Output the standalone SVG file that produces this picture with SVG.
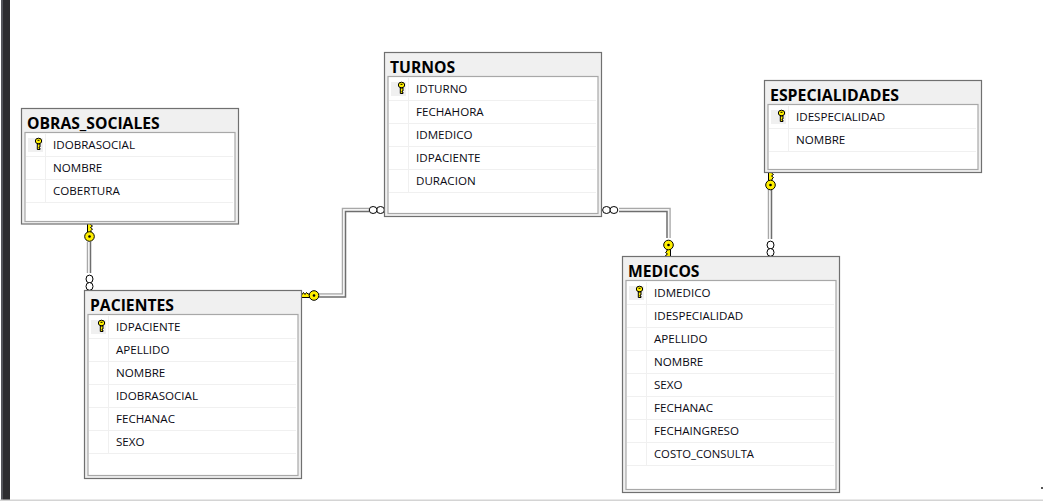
<svg xmlns="http://www.w3.org/2000/svg" xmlns:xlink="http://www.w3.org/1999/xlink" width="1043" height="501" viewBox="0 0 1043 501">
<style>
.outer{fill:#f0f0f0;stroke:#707070;stroke-width:1.2}
.inner{fill:#fff;stroke:#a8a8a8;stroke-width:1.2}
.sep{stroke:#f0f0f0;stroke-width:1;fill:none}
.keybg{fill:#f0f0f0}
.title{font:bold 15.7px "Open Sans","Noto Sans",sans-serif;fill:#000}
.col{font:11.6px "Open Sans","Noto Sans",sans-serif;fill:#0a0a14}
.l1{fill:none;stroke:#a8a8a8;stroke-width:1.5}
.l2{fill:none;stroke:#6e6e6e;stroke-width:1.5}
.l3{fill:none;stroke:#f6f6f6;stroke-width:1.5}
.ring{fill:#fff;stroke:#000;stroke-width:1}
.k{fill:#ffef00;stroke:#000;stroke-width:1}
</style>
<defs>
<g id="smallkey"><ellipse cx="0" cy="-3" rx="3.2" ry="2.8" fill="#ffef00" stroke="#000" stroke-width="1"/><path d="M-1.2 0V5.500H1.500V4.200H0.600V3H1.500V0Z" fill="#ffef00" stroke="#000" stroke-width="1"/><rect x="-1" y="-4.200" width="2" height="1" fill="#000"/></g>
<g id="relkey"><path d="M-2 -3V-15.500L2.500 -13.500L1 -12L3 -10.500L1 -9L3 -7.500L1.500 -6V-3Z" class="k"/><circle cx="0" cy="0" r="4.800" class="k"/><circle cx="0" cy="0" r="1.300" fill="#000"/></g>
<g id="rings"><ellipse cx="0" cy="0" rx="3.500" ry="3.900" class="ring"/><ellipse cx="0" cy="7.400" rx="3.500" ry="3.900" class="ring"/></g>
</defs>
<rect width="1043" height="501" fill="#fff"/>
<rect x="1" y="0" width="2" height="501" fill="#55565c"/>
<rect x="3" y="0" width="7" height="501" fill="#2d2d30"/>
<rect x="0" y="499.500" width="1043" height="1.500" fill="#d4d4d4"/>
<rect x="1041" y="487" width="2" height="2" fill="#555"/>
<g id="connectors">
<g id="rel-obras-pacientes">
<path class="l1" d="M87.500 242V273"/><path class="l3" d="M89 242V273"/><path class="l2" d="M90.500 242V273"/>
<use xlink:href="#relkey" x="89.500" y="236.500"/>
<use xlink:href="#rings" x="89.500" y="279"/>
</g>
<g id="rel-pacientes-turnos">
<path class="l1" d="M318 294H342.500V208.500H369"/>
<path class="l3" d="M318 295.500H344V210H369"/>
<path class="l2" d="M318 297H345.500V211.500H369"/>
<use xlink:href="#relkey" transform="translate(314 295.500) rotate(-90)"/>
<use xlink:href="#rings" transform="translate(380.500 210) rotate(90)"/>
</g>
<g id="rel-turnos-medicos">
<path class="l1" d="M619 208.500H670V238"/>
<path class="l3" d="M619 210H668.500V238"/>
<path class="l2" d="M619 211.500H667V238"/>
<use xlink:href="#rings" transform="translate(606.500 210) rotate(-90)"/>
<use xlink:href="#relkey" transform="translate(668.500 245) rotate(180)"/>
</g>
<g id="rel-especialidades-medicos">
<path class="l1" d="M768.500 189V239"/><path class="l3" d="M770 189V239"/><path class="l2" d="M771.500 189V239"/>
<use xlink:href="#relkey" x="770.500" y="185"/>
<use xlink:href="#rings" x="770.500" y="245"/>
</g>
</g>
<g id="OBRAS_SOCIALES">
<rect class="outer" x="21.500" y="108.500" width="217" height="115.500"/>
<rect class="inner" x="25" y="132.500" width="210" height="89"/>
<path class="sep" d="M26 156.500H233M26 179.500H233M26 202.500H233M45.500 134V202"/>
<rect class="keybg" x="28" y="138" width="15" height="14"/>
<use xlink:href="#smallkey" x="38.500" y="144"/>
<text class="title" x="27" y="129">OBRAS_SOCIALES</text>
<text class="col" x="53" y="149">IDOBRASOCIAL</text>
<text class="col" x="53" y="172">NOMBRE</text>
<text class="col" x="53" y="195">COBERTURA</text>
</g>
<g id="TURNOS">
<rect class="outer" x="384.500" y="52.500" width="217" height="164"/>
<rect class="inner" x="388" y="76.500" width="210" height="137"/>
<path class="sep" d="M389 100.500H596M389 123.500H596M389 146.500H596M389 169.500H596M389 192.500H596M408.500 78V192"/>
<rect class="keybg" x="391" y="82" width="15" height="14"/>
<use xlink:href="#smallkey" x="401.500" y="88"/>
<text class="title" x="390" y="73">TURNOS</text>
<text class="col" x="416" y="93">IDTURNO</text>
<text class="col" x="416" y="116">FECHAHORA</text>
<text class="col" x="416" y="139">IDMEDICO</text>
<text class="col" x="416" y="162">IDPACIENTE</text>
<text class="col" x="416" y="185">DURACION</text>
</g>
<g id="ESPECIALIDADES">
<rect class="outer" x="764.500" y="80.500" width="217" height="92"/>
<rect class="inner" x="768" y="104.500" width="210" height="65"/>
<path class="sep" d="M769 128.500H976M769 151.500H976M788.500 106V151"/>
<rect class="keybg" x="771" y="110" width="15" height="14"/>
<use xlink:href="#smallkey" x="781.500" y="116"/>
<text class="title" x="770" y="101" textLength="129" lengthAdjust="spacingAndGlyphs">ESPECIALIDADES</text>
<text class="col" x="796" y="121">IDESPECIALIDAD</text>
<text class="col" x="796" y="144">NOMBRE</text>
</g>
<g id="PACIENTES">
<rect class="outer" x="84.500" y="290.500" width="217" height="188"/>
<rect class="inner" x="88" y="314.500" width="210" height="161"/>
<path class="sep" d="M89 338.500H296M89 361.500H296M89 384.500H296M89 407.500H296M89 430.500H296M89 453.500H296M108.500 316V453"/>
<rect class="keybg" x="91" y="320" width="15" height="14"/>
<use xlink:href="#smallkey" x="101.500" y="326"/>
<text class="title" x="90" y="311">PACIENTES</text>
<text class="col" x="116" y="331">IDPACIENTE</text>
<text class="col" x="116" y="354">APELLIDO</text>
<text class="col" x="116" y="377">NOMBRE</text>
<text class="col" x="116" y="400">IDOBRASOCIAL</text>
<text class="col" x="116" y="423">FECHANAC</text>
<text class="col" x="116" y="446">SEXO</text>
</g>
<g id="MEDICOS">
<rect class="outer" x="622.500" y="256.500" width="217" height="236"/>
<rect class="inner" x="626" y="280.500" width="210" height="209"/>
<path class="sep" d="M627 304.500H834M627 327.500H834M627 350.500H834M627 373.500H834M627 396.500H834M627 419.500H834M627 442.500H834M627 465.500H834M646.500 282V465"/>
<rect class="keybg" x="629" y="286" width="15" height="14"/>
<use xlink:href="#smallkey" x="639.500" y="292"/>
<text class="title" x="628" y="277">MEDICOS</text>
<text class="col" x="654" y="297">IDMEDICO</text>
<text class="col" x="654" y="320">IDESPECIALIDAD</text>
<text class="col" x="654" y="343">APELLIDO</text>
<text class="col" x="654" y="366">NOMBRE</text>
<text class="col" x="654" y="389">SEXO</text>
<text class="col" x="654" y="412">FECHANAC</text>
<text class="col" x="654" y="435">FECHAINGRESO</text>
<text class="col" x="654" y="458" textLength="100" lengthAdjust="spacingAndGlyphs">COSTO_CONSULTA</text>
</g>
</svg>
